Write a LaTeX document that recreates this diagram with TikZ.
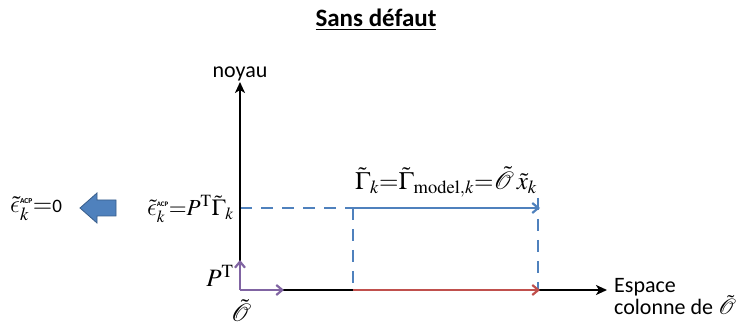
\documentclass[tikz,border=0pt]{standalone}
\usepackage{mathptmx}
\usepackage[no-math]{fontspec}
\setmainfont{Carlito}
\DeclareSymbolFont{lmletters}{OML}{lmm}{m}{it}
\DeclareMathSymbol{\lunateps}{\mathord}{lmletters}{"0F}
\usetikzlibrary{arrows.meta}
\definecolor{cblue}{HTML}{4F81BD}
\definecolor{cbluedark}{HTML}{385D8A}
\definecolor{cred}{HTML}{C0504D}
\definecolor{cpurple}{HTML}{8064A2}
\tikzset{
  axis/.style={line width=2.6pt, -{Stealth[length=11pt,width=10pt,inset=3pt]}},
  vec/.style={line width=2.6pt, -{Straight Barb[length=6pt,width=10pt,line width=2.2pt]}},
  dashline/.style={cblue, line width=1.2pt, dash pattern=on 12pt off 9pt},
  lbl/.style={inner sep=0pt, font=\fontsize{22}{24}\selectfont},
  mlbl/.style={inner sep=0pt, font=\fontsize{25}{27}\selectfont}
}
\newcommand{\acp}{\scalebox{0.3}{\bfseries ACP}}
\begin{document}
\begin{tikzpicture}[x=1pt,y=-1pt]
\useasboundingbox (0,0) rectangle (756,328);
% title
\node[inner sep=0pt, font=\fontsize{25}{27}\selectfont\bfseries] (title) at (376,20) {\underline{Sans défaut}};
% coordinates
\coordinate (O) at (240,290);
\coordinate (ytip) at (240,82);
\coordinate (xtip) at (607,290);
\coordinate (pu) at (240,260);
\coordinate (pr) at (284,290);
\coordinate (a1) at (353,290);
\coordinate (a2) at (540,290);
\coordinate (b1) at (353,208);
\coordinate (b2) at (540,208);
\coordinate (bl) at (240,208);
\coordinate (dtop) at (538,198);
\coordinate (dbot) at (538,290);
% dashed
\draw[dashline] (bl) -- (b1);
\draw[dashline] (b1) -- (a1);
\draw[dashline] (dtop) -- (dbot);
% axes
\draw[axis] (O) -- (ytip);
\draw[axis] (O) -- (xtip);
% red and blue
\draw[vec, cred] (a1) -- (a2);
\draw[vec, cblue] (b1) -- (b2);
% purple
\draw[vec, cpurple] (O) -- (pu);
\draw[vec, cpurple] (O) -- (pr);
% labels
\node[lbl, anchor=south] (noyau) at (240,81) {noyau};
\node[lbl, anchor=west, align=left] (esp) at (614,297) {Espace\\[-2pt]colonne de $\tilde{\mathcal{O}}$};
\node[mlbl] (Olbl) at (241,311) {$\tilde{\mathcal{O}}$};
\node[mlbl] (Plbl) at (220,276) {$P^{\mathrm{T}}$};
\node[mlbl, anchor=south] (gam) at (446,197) {$\tilde\Gamma_{k}{=}\tilde\Gamma_{\mathrm{model},k}{=}\tilde{\mathcal{O}}\,\tilde x_{k}$};
\node[mlbl, anchor=east, font=\fontsize{23}{25}\selectfont] (eps) at (234,209) {$\tilde\lunateps_{k}^{\acp}{=}P^{\mathrm{T}}\tilde\Gamma_{k}$};
\node[mlbl, anchor=west] (eps0) at (10,209) {$\tilde\lunateps_{k}^{\acp}{=}$\fontsize{19}{21}\selectfont 0};
% block arrow
\filldraw[fill=cblue, draw=cbluedark, line width=0.8pt] (80,208) -- (97,193) -- (97,200) -- (116,200) -- (116,216) -- (97,216) -- (97,223) -- cycle;
\end{tikzpicture}
\end{document}
